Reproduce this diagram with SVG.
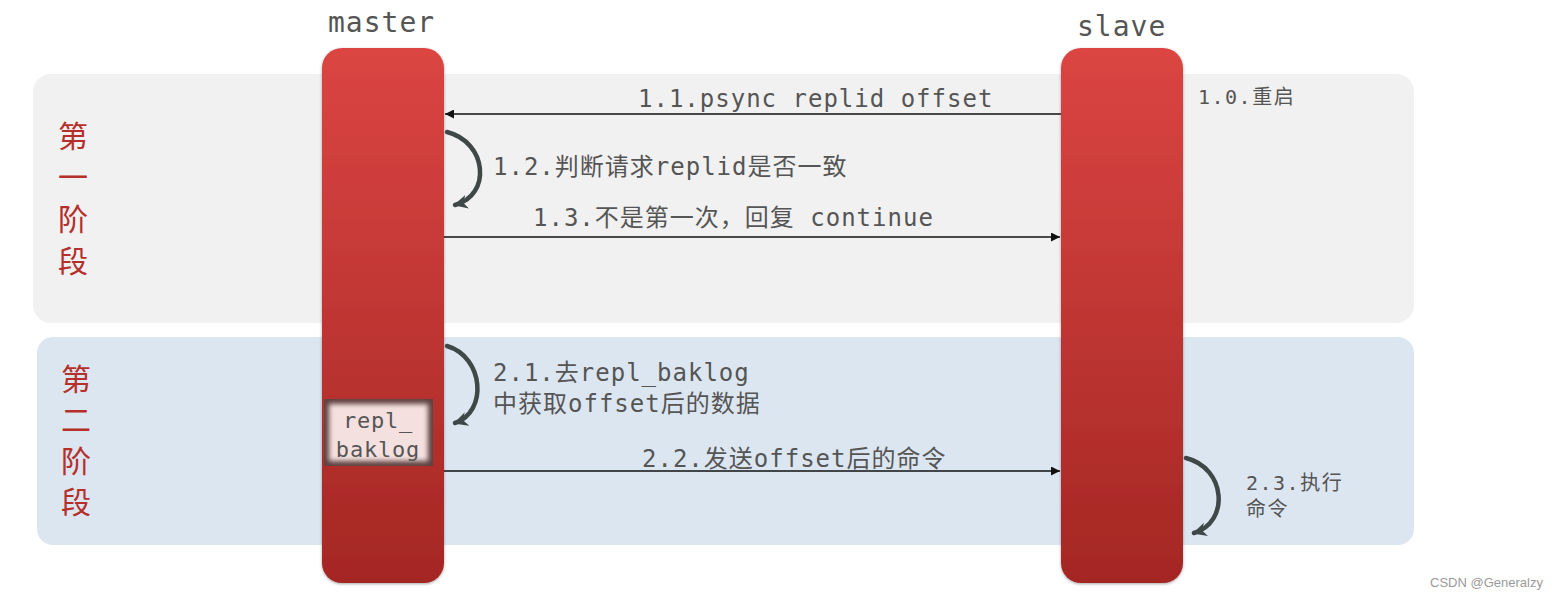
<svg xmlns="http://www.w3.org/2000/svg" width="1563" height="599" viewBox="0 0 1563 599">
<style>
.t{font-family:"DejaVu Sans Mono","Noto Sans CJK SC",monospace;fill:#555;letter-spacing:1px}
.m{font-size:24px}
.s{font-size:20px;letter-spacing:1.5px}
.h{font-size:28px}
.stage{font-family:"Noto Sans CJK SC",sans-serif;font-size:30px;fill:#b52f2b;text-anchor:middle}
.ln{stroke:#111;stroke-width:1.5;fill:none}
.cv{stroke:#3e4847;stroke-width:4.5;fill:none;stroke-linecap:round}
</style>
<defs>
<linearGradient id="bar" x1="0" y1="0" x2="0" y2="1">
<stop offset="0" stop-color="#db4542"/>
<stop offset="1" stop-color="#a42724"/>
</linearGradient>
<filter id="sh" x="-10%" y="-10%" width="120%" height="120%">
<feGaussianBlur in="SourceAlpha" stdDeviation="1.5"/>
<feOffset dx="0" dy="1"/>
<feComponentTransfer><feFuncA type="linear" slope="0.35"/></feComponentTransfer>
<feMerge><feMergeNode/><feMergeNode in="SourceGraphic"/></feMerge>
</filter>
<filter id="bl"><feGaussianBlur stdDeviation="2.5"/></filter>
<clipPath id="rc"><rect x="324" y="399" width="109" height="67"/></clipPath>
<marker id="ah" viewBox="0 0 10 10" refX="10" refY="5" markerWidth="9" markerHeight="9" markerUnits="userSpaceOnUse" orient="auto">
<path d="M0,0 L10,5 L0,10 z" fill="#111"/>
</marker>
<marker id="ch" viewBox="0 0 10 10" refX="9" refY="5" markerWidth="14" markerHeight="14" markerUnits="userSpaceOnUse" orient="auto">
<path d="M0,0 L10,5 L0,10 L3,5 z" fill="#3e4847"/>
</marker>
</defs>
<rect width="1563" height="599" fill="#fff"/>
<g id="phase1">
<rect x="33" y="74" width="1381" height="249" rx="18" fill="#f1f1f1"/>
<text class="stage" x="73" y="147">第</text>
<text class="stage" x="73" y="188">一</text>
<text class="stage" x="73" y="230">阶</text>
<text class="stage" x="73" y="272">段</text>
</g>
<g id="phase2">
<rect x="37" y="337" width="1377" height="208" rx="16" fill="#dce6f1"/>
<text class="stage" x="76" y="390">第</text>
<text class="stage" x="76" y="431">二</text>
<text class="stage" x="76" y="472">阶</text>
<text class="stage" x="76" y="513">段</text>
</g>
<g id="master">
<text class="t h" x="328" y="32">master</text>
<rect x="322" y="48" width="122" height="535" rx="20" fill="url(#bar)" filter="url(#sh)"/>
</g>
<g id="slave">
<text class="t h" x="1077" y="36">slave</text>
<rect x="1061" y="48" width="122" height="535" rx="20" fill="url(#bar)" filter="url(#sh)"/>
</g>
<g id="repl_baklog">
<g clip-path="url(#rc)">
<rect x="324" y="399" width="109" height="67" fill="#5e4240"/>
<rect x="329" y="404" width="99" height="57" fill="#f4e0df" filter="url(#bl)"/>
</g>
<text class="t" style="font-size:22px;letter-spacing:0.8px" x="378" y="428" text-anchor="middle">repl_</text>
<text class="t" style="font-size:22px;letter-spacing:0.8px" x="378" y="457" text-anchor="middle">baklog</text>
</g>
<g id="connectors">
<line class="ln" x1="1061" y1="114" x2="445" y2="114" marker-end="url(#ah)"/>
<line class="ln" x1="444" y1="237" x2="1060" y2="237" marker-end="url(#ah)"/>
<line class="ln" x1="444" y1="471" x2="1060" y2="471" marker-end="url(#ah)"/>
<path class="cv" d="M447,132 C487,142 492,195 455,205" marker-end="url(#ch)"/>
<path class="cv" d="M447,346 C484,357 488,412 455,423" marker-end="url(#ch)"/>
<path class="cv" d="M1186,458 C1226,468 1230,522 1194,533" marker-end="url(#ch)"/>
</g>
<g id="labels">
<text class="t m" x="638" y="107">1.1.psync replid offset</text>
<text class="t s" x="1198" y="104">1.0.重启</text>
<text class="t m" x="493" y="175">1.2.判断请求replid是否一致</text>
<text class="t m" x="533" y="226">1.3.不是第一次，回复 continue</text>
<text class="t m" x="493" y="381">2.1.去repl_baklog</text>
<text class="t m" x="493" y="412">中获取offset后的数据</text>
<text class="t m" x="642" y="467">2.2.发送offset后的命令</text>
<text class="t s" x="1246" y="490">2.3.执行</text>
<text class="t s" x="1246" y="516">命令</text>
<text x="1430" y="587" style="font-family:'Liberation Sans',sans-serif;font-size:13px;fill:#9a9a9a">CSDN @Generalzy</text>
</g>
</svg>
